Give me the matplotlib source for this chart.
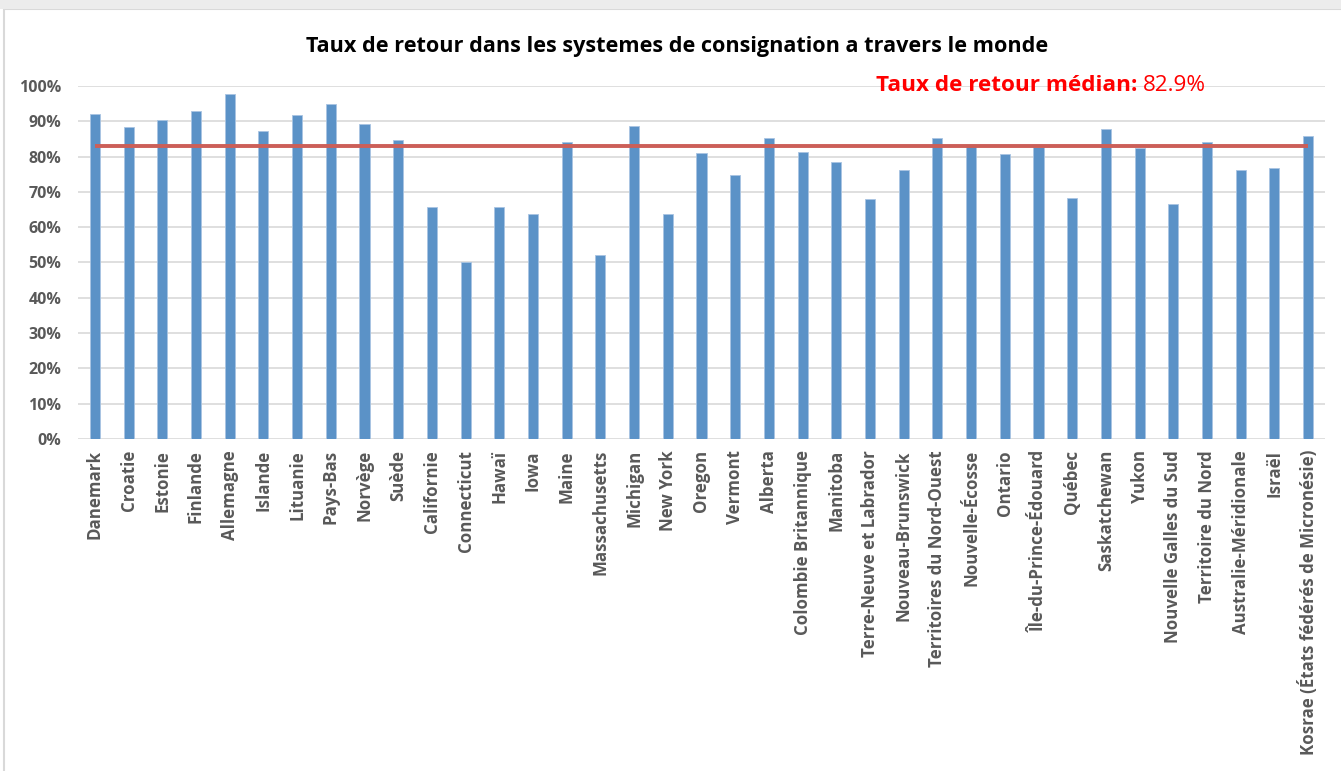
import numpy as np
import matplotlib
matplotlib.use("Agg")
import matplotlib.pyplot as plt
from matplotlib.patches import Rectangle
from matplotlib.ticker import PercentFormatter

regions = [
    "Danemark", "Croatie", "Estonie", "Finlande", "Allemagne", "Islande",
    "Lituanie", "Pays-Bas", "Norvège", "Suède", "Californie", "Connecticut",
    "Hawaï", "Iowa", "Maine", "Massachusetts", "Michigan", "New York",
    "Oregon", "Vermont", "Alberta", "Colombie Britannique", "Manitoba",
    "Terre-Neuve et Labrador", "Nouveau-Brunswick", "Territoires du Nord-Ouest",
    "Nouvelle-Écosse", "Ontario", "Île-du-Prince-Édouard", "Québec",
    "Saskatchewan", "Yukon", "Nouvelle Galles du Sud", "Territoire du Nord",
    "Australie-Méridionale", "Israël", "Kosrae (États fédérés de Micronésie)",
]
return_rates = [
    92, 88.5, 90.5, 92.8, 97.8, 87.3,
    91.9, 94.9, 89.3, 84.7, 65.8, 50,
    65.8, 63.8, 84, 52, 88.8, 63.8,
    80.9, 74.8, 85.4, 81.2, 78.4,
    68, 76.2, 85.2,
    83, 80.7, 82.8, 68.3,
    87.7, 82.4, 66.7, 84,
    76.2, 76.9, 85.7,
]
median_rate = 82.9

title = "Taux de retour dans les systemes de consignation a travers le monde"
median_label = "Taux de retour médian:"

label_font = ["Open Sans", "DejaVu Sans"]
grey = "#595959"

fig = plt.figure(figsize=(13.41, 7.71), dpi=100)
ax = fig.add_axes([0.0582, 0.4306, 0.9298, 0.4579])

# chart frame like the spreadsheet export
fig.patches.append(Rectangle((0.003, -0.01), 1.2, 0.998, transform=fig.transFigure,
                             fill=False, edgecolor="#d9d9d9", linewidth=1.5))
fig.patches.append(Rectangle((0, 0.988), 1, 0.012, transform=fig.transFigure,
                             facecolor="#ececec", edgecolor="none"))

x = np.arange(len(regions))
ax.bar(x, np.array(return_rates) / 100, width=0.3, color="#5b92c7",
       edgecolor="#a9c4e2", linewidth=0.6, zorder=2)
ax.plot([x[0], x[-1]], [median_rate / 100] * 2, color="#cc5f58",
        linewidth=2.8, zorder=3, solid_capstyle="butt")

ax.set_xlim(-0.5, len(regions) - 0.5)
ax.set_ylim(0, 1)
ax.set_yticks(np.arange(0, 1.01, 0.1))
ax.yaxis.set_major_formatter(PercentFormatter(1, decimals=0))
ax.grid(axis="y", color="#d9d9d9", linewidth=1.2, zorder=0)
ax.set_axisbelow(True)
for s in ax.spines.values():
    s.set_visible(False)
ax.tick_params(axis="x", length=0, pad=8)
ax.tick_params(axis="y", length=0, pad=12)
ax.set_xticks(x)
ax.set_xticklabels(regions, rotation=90, fontsize=12.2, fontweight="bold",
                   color=grey, family=label_font)
for lab in ax.get_yticklabels():
    lab.set_fontsize(11.5)
    lab.set_fontweight("bold")
    lab.set_color(grey)
    lab.set_family(label_font)

fig.text(0.505, 0.94, title, ha="center", va="center", fontsize=15.6,
         fontweight="bold", color="black", family=label_font)

t1 = fig.text(0.653, 0.889, median_label, ha="left", va="center",
              fontsize=16.2, fontweight="bold", color="#ff0000", family=label_font)
fig.canvas.draw()
bb = t1.get_window_extent(fig.canvas.get_renderer())
fig.text(bb.x1 / fig.bbox.width + 0.004, 0.889, f"{median_rate}%", ha="left",
         va="center", fontsize=16.2, color="#ff0000", family=label_font)

fig.savefig("out.png", dpi=100)
